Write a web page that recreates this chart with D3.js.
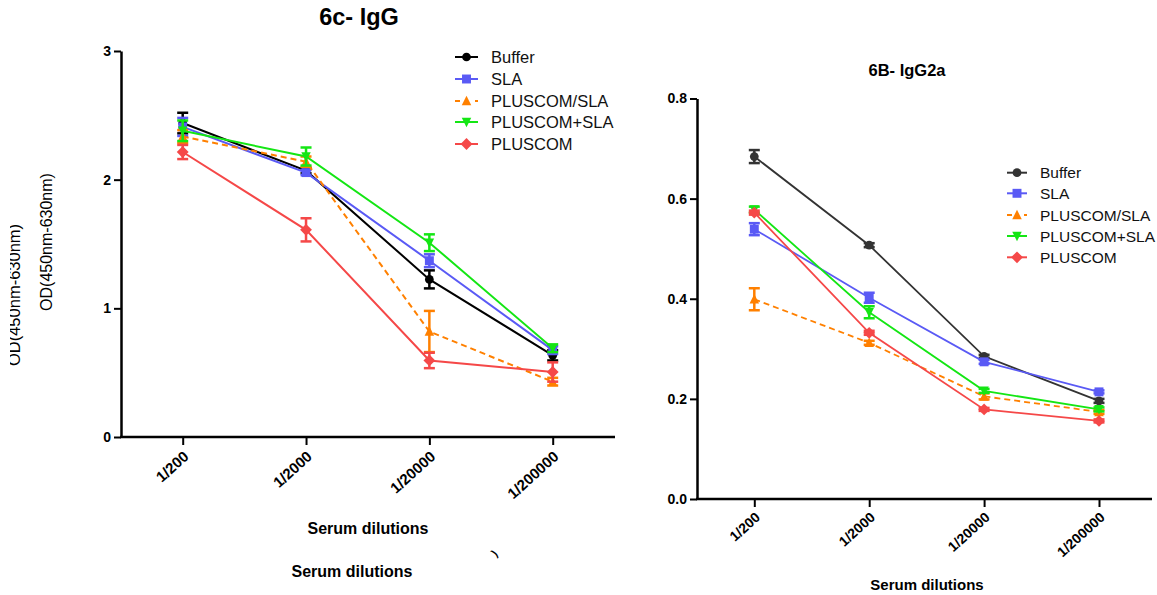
<!DOCTYPE html>
<html>
<head>
<meta charset="utf-8">
<script src="https://cdn.jsdelivr.net/npm/d3@7"></script>
<style>
  html, body { margin: 0; padding: 0; background: #fff; }
  svg { display: block; font-family: "Liberation Sans", Arial, sans-serif; }
</style>
</head>
<body>
<svg id="chart" width="1157" height="595"></svg>
<script>
// ---- data ----------------------------------------------------------------
const dilutions = ["1/200", "1/2000", "1/20000", "1/200000"];
const seriesNames = ["Buffer", "SLA", "PLUSCOM/SLA", "PLUSCOM+SLA", "PLUSCOM"];

// 6c- IgG (OD 450nm-630nm), mean and error per dilution
const iggBuffer      = [2.44, 2.07, 1.225, 0.635];
const iggBufferErr   = [0.08, 0.02, 0.07, 0.04];
const iggSLA         = [2.41, 2.055, 1.37, 0.675];
const iggSLAErr      = [0.07, 0.02, 0.05, 0.03];
const iggPlusSlash   = [2.335, 2.14, 0.82, 0.43];
const iggPlusSlashErr= [0.05, 0.04, 0.16, 0.03];
const iggPlusSLA     = [2.38, 2.18, 1.51, 0.69];
const iggPlusSLAErr  = [0.08, 0.07, 0.065, 0.03];
const iggPluscom     = [2.215, 1.61, 0.595, 0.505];
const iggPluscomErr  = [0.055, 0.09, 0.06, 0.075];
const iggTicks = [0, 1, 2, 3];

// 6B- IgG2a
const g2aBuffer      = [0.684, 0.507, 0.285, 0.196];
const g2aBufferErr   = [0.013, 0.004, 0.003, 0.004];
const g2aSLA         = [0.539, 0.402, 0.274, 0.214];
const g2aSLAErr      = [0.012, 0.01, 0.004, 0.003];
const g2aPlusSlash   = [0.399, 0.312, 0.205, 0.174];
const g2aPlusSlashErr= [0.022, 0.004, 0.006, 0.004];
const g2aPlusSLA     = [0.578, 0.373, 0.216, 0.179];
const g2aPlusSLAErr  = [0.006, 0.012, 0.004, 0.004];
const g2aPluscom     = [0.572, 0.332, 0.179, 0.156];
const g2aPluscomErr  = [0.004, 0.004, 0.003, 0.003];
const g2aTicks = [0, 0.2, 0.4, 0.6, 0.8];

// ---- styles --------------------------------------------------------------
const diamond = {
  draw(ctx, size) {
    const r = Math.sqrt(size / 2);
    ctx.moveTo(0, -r); ctx.lineTo(r, 0); ctx.lineTo(0, r); ctx.lineTo(-r, 0); ctx.closePath();
  }
};
const triDown = {
  draw(ctx, size) {
    const h = Math.sqrt(size * 1.2);
    ctx.moveTo(-h / 2, -h * 0.45); ctx.lineTo(h / 2, -h * 0.45); ctx.lineTo(0, h * 0.55); ctx.closePath();
  }
};
const triUp = {
  draw(ctx, size) {
    const h = Math.sqrt(size * 1.2);
    ctx.moveTo(-h / 2, h * 0.45); ctx.lineTo(h / 2, h * 0.45); ctx.lineTo(0, -h * 0.55); ctx.closePath();
  }
};
const symbols = [d3.symbolCircle, d3.symbolSquare, triUp, triDown, diamond];
const symbolSizes = [60, 80, 75, 75, 70];
const dashes = [null, null, "6,4", null, null];
const colorsIgG  = ["#000000", "#5a5af5", "#ff8000", "#14e614", "#f54848"];
const colorsG2a  = ["#333333", "#5a5af5", "#ff8000", "#14e614", "#f54848"];

const svg = d3.select("#chart");
svg.append("rect").attr("width", 1157).attr("height", 595).attr("fill", "#fff");

function drawPanel(cfg) {
  const g = svg.append("g");
  const x = d3.scalePoint().domain(dilutions).range(cfg.xRange);
  const y = d3.scaleLinear().domain([0, cfg.yMax]).range([cfg.axisY, cfg.yTop]);

  // y axis
  const ya = g.append("g").attr("transform", `translate(${cfg.axisX},0)`)
    .call(d3.axisLeft(y).tickValues(cfg.ticks).tickSize(7).tickSizeOuter(0).tickPadding(3)
      .tickFormat(cfg.tickFormat));
  ya.select(".domain").attr("stroke", "#000").attr("stroke-width", 2.5);
  ya.selectAll(".tick line").attr("stroke", "#000").attr("stroke-width", 2);
  ya.selectAll(".tick text").attr("font-size", cfg.tickFont).attr("font-weight", "bold")
    .attr("fill", "#000").attr("font-family", "Liberation Sans, Arial, sans-serif");

  // x axis
  g.append("line").attr("x1", cfg.axisX - 1).attr("x2", cfg.xAxisEnd)
    .attr("y1", cfg.axisY).attr("y2", cfg.axisY).attr("stroke", "#000").attr("stroke-width", 2.5);
  const xa = g.append("g").attr("transform", `translate(0,${cfg.axisY})`)
    .call(d3.axisBottom(x).tickSize(8).tickSizeOuter(0));
  xa.select(".domain").remove();
  xa.selectAll(".tick line").attr("stroke", "#000").attr("stroke-width", 2);
  xa.selectAll(".tick text")
    .attr("font-size", cfg.xTickFont).attr("font-weight", "bold").attr("fill", "#000")
    .attr("font-family", "Liberation Sans, Arial, sans-serif")
    .attr("text-anchor", "end").attr("x", 0).attr("y", 0).attr("dy", "0.35em")
    .attr("transform", `translate(3,${cfg.xLabelDrop}) rotate(-42)`);

  // series
  const line = d3.line().x((d, i) => x(dilutions[i])).y(d => y(d));
  cfg.series.forEach((s, k) => {
    const c = cfg.colors[k];
    const sg = g.append("g");
    sg.append("path").datum(s.values).attr("d", line).attr("fill", "none")
      .attr("stroke", c).attr("stroke-width", cfg.lineWidth)
      .attr("stroke-dasharray", dashes[k]);
    s.values.forEach((v, i) => {
      const cx = x(dilutions[i]);
      const e = s.err[i];
      const y1 = y(v + e), y2 = y(v - e);
      sg.append("line").attr("x1", cx).attr("x2", cx).attr("y1", y1).attr("y2", y2)
        .attr("stroke", c).attr("stroke-width", 2.5);
      [y1, y2].forEach(yy => sg.append("line").attr("x1", cx - 5.5).attr("x2", cx + 5.5)
        .attr("y1", yy).attr("y2", yy).attr("stroke", c).attr("stroke-width", 2.5));
      sg.append("path").attr("d", d3.symbol().type(symbols[k]).size(symbolSizes[k])())
        .attr("transform", `translate(${cx},${y(v)})`).attr("fill", c);
    });
  });

  // legend
  seriesNames.forEach((name, k) => {
    const ly = cfg.legendRows[k];
    const c = cfg.colors[k];
    const lg = g.append("g");
    if (dashes[k]) {
      lg.append("line").attr("x1", cfg.legendX1).attr("x2", cfg.legendX1 + 5).attr("y1", ly).attr("y2", ly)
        .attr("stroke", c).attr("stroke-width", 2);
      lg.append("line").attr("x1", cfg.legendX2 - 3).attr("x2", cfg.legendX2).attr("y1", ly).attr("y2", ly)
        .attr("stroke", c).attr("stroke-width", 2);
    } else {
      lg.append("line").attr("x1", cfg.legendX1).attr("x2", cfg.legendX2).attr("y1", ly).attr("y2", ly)
        .attr("stroke", c).attr("stroke-width", 2);
    }
    lg.append("path").attr("d", d3.symbol().type(symbols[k]).size(symbolSizes[k])())
      .attr("transform", `translate(${(cfg.legendX1 + cfg.legendX2) / 2},${ly})`).attr("fill", c);
    lg.append("text").attr("x", cfg.legendTextX).attr("y", ly).attr("dy", "0.36em")
      .attr("font-size", cfg.legendFont).attr("fill", "#111").text(name);
  });

  // title
  g.append("text").attr("x", cfg.titleX).attr("y", cfg.titleY).attr("text-anchor", "middle")
    .attr("font-size", cfg.titleFont).attr("font-weight", "bold").attr("fill", "#000").text(cfg.title);

  // x axis titles
  cfg.xTitles.forEach(t => g.append("text").attr("x", t[0]).attr("y", t[1]).attr("text-anchor", "middle")
    .attr("font-size", t[2]).attr("font-weight", "bold").attr("fill", "#000").text("Serum dilutions"));
  return g;
}

drawPanel({
  axisX: 121, axisY: 437, yTop: 51, yMax: 3, xAxisEnd: 615,
  xRange: [182.7, 552.7], ticks: iggTicks, tickFormat: d3.format("d"), tickFont: 14,
  xTickFont: 15, xLabelDrop: 17, lineWidth: 2,
  colors: colorsIgG,
  series: [
    { values: iggBuffer, err: iggBufferErr },
    { values: iggSLA, err: iggSLAErr },
    { values: iggPlusSlash, err: iggPlusSlashErr },
    { values: iggPlusSLA, err: iggPlusSLAErr },
    { values: iggPluscom, err: iggPluscomErr }
  ],
  legendX1: 455, legendX2: 478, legendTextX: 491, legendRows: [57, 79, 101, 122, 144], legendFont: 16.5,
  title: "6c- IgG", titleX: 359, titleY: 25, titleFont: 23.5,
  xTitles: [[368, 534, 16], [352, 577, 16]]
});

drawPanel({
  axisX: 697, axisY: 499, yTop: 98.5, yMax: 0.8, xAxisEnd: 1152,
  xRange: [754.3, 1099], ticks: g2aTicks, tickFormat: d3.format(".1f"), tickFont: 14,
  xTickFont: 14, xLabelDrop: 16, lineWidth: 1.8,
  colors: colorsG2a,
  series: [
    { values: g2aBuffer, err: g2aBufferErr },
    { values: g2aSLA, err: g2aSLAErr },
    { values: g2aPlusSlash, err: g2aPlusSlashErr },
    { values: g2aPlusSLA, err: g2aPlusSLAErr },
    { values: g2aPluscom, err: g2aPluscomErr }
  ],
  legendX1: 1007, legendX2: 1027, legendTextX: 1040, legendRows: [172.7, 193.3, 215, 236, 257.3], legendFont: 15.5,
  title: "6B- IgG2a", titleX: 907, titleY: 76, titleFont: 16.5,
  xTitles: [[927, 590, 15]]
});

// y axis titles for the IgG panel (second copy partly hidden at the left edge)
svg.append("text").attr("transform", "translate(52,242) rotate(-90)").attr("text-anchor", "middle")
  .attr("font-size", 16).attr("fill", "#000").text("OD(450nm-630nm)");
svg.append("clipPath").attr("id", "leftEdge").append("rect")
  .attr("x", 10).attr("y", 0).attr("width", 40).attr("height", 595);
svg.append("g").attr("clip-path", "url(#leftEdge)")
  .append("text").attr("transform", "translate(20,295) rotate(-90)").attr("text-anchor", "middle")
  .attr("font-size", 16.5).attr("fill", "#000").text("OD(450nm-630nm)");

// small leftover glyph below the IgG axis title
svg.append("text").attr("transform", "translate(497,556) rotate(-45)").attr("text-anchor", "middle")
  .attr("font-size", 11).attr("font-weight", "bold").attr("fill", "#000").text(")");
</script>
</body>
</html>
